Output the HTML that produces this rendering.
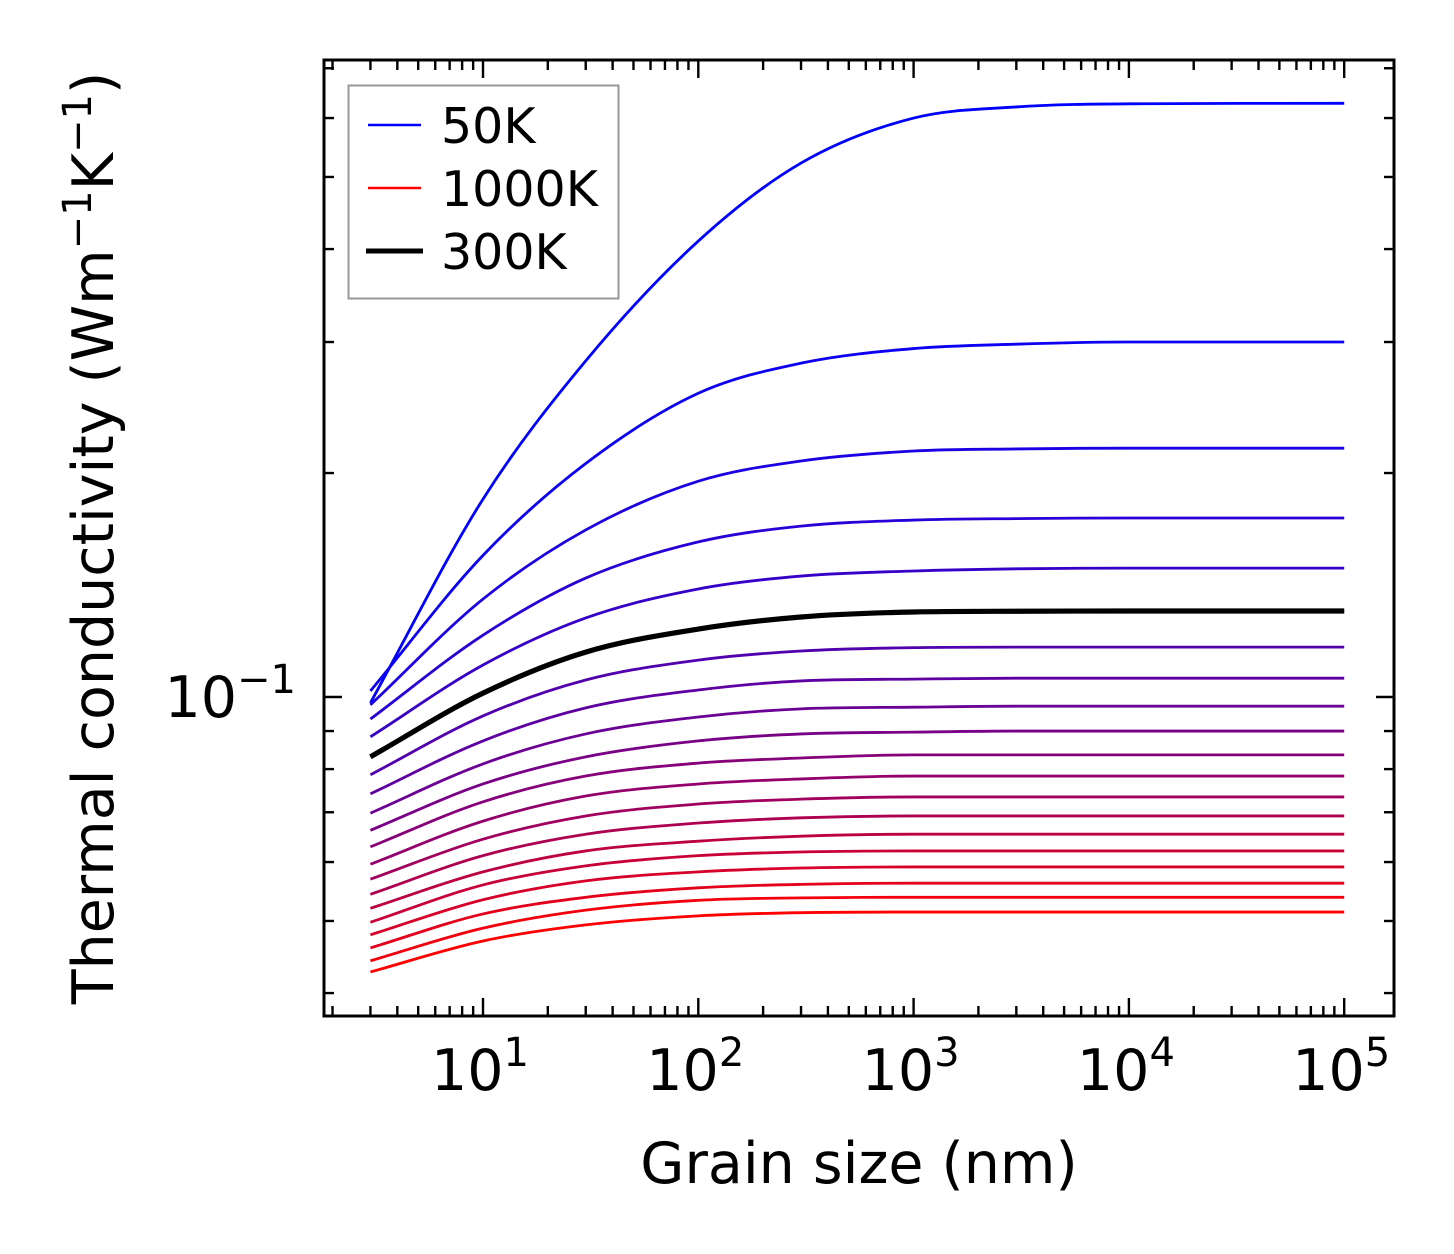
<!DOCTYPE html>
<html><head><meta charset="utf-8"><style>
html,body{margin:0;padding:0;background:#fff;}
svg{display:block;font-family:"DejaVu Sans","Liberation Sans",sans-serif;}
</style></head><body>
<svg id="chart" width="1454" height="1254" viewBox="0 0 1454 1254" xmlns="http://www.w3.org/2000/svg">
<g id="curves"></g>
<g id="axes"></g>
<g id="legend">
  <rect x="348.5" y="85.5" width="270" height="213" fill="#fff" stroke="#999" stroke-width="2"/>
  <line x1="368" y1="125" x2="421" y2="125" stroke="#0000ff" stroke-width="2.6"/>
  <text x="441" y="143" font-size="49">50K</text>
  <line x1="368" y1="188" x2="421" y2="188" stroke="#ff0000" stroke-width="2.6"/>
  <text x="441" y="206" font-size="49">1000K</text>
  <line x1="366" y1="251" x2="423" y2="251" stroke="#000" stroke-width="5"/>
  <text x="441" y="269" font-size="49">300K</text>
</g>
<text x="859" y="1183" font-size="57" text-anchor="middle">Grain size (nm)</text>
<text transform="translate(113,538) rotate(-90)" font-size="57" text-anchor="middle">Thermal conductivity (Wm<tspan font-size="40" dy="-22">−1</tspan><tspan dy="22">K</tspan><tspan font-size="40" dy="-22">−1</tspan><tspan dy="22">)</tspan></text>
</svg>
<script>
// grain sizes (nm) at which values were read
const grainSizes = [3, 10, 30, 100, 300, 1000, 3000, 10000, 100000];
const temperatures = [50,100,150,200,250,300,350,400,450,500,550,600,650,700,750,800,850,900,950,1000];
const k50 = [0.0982,0.1845,0.283,0.410,0.522,0.600,0.621,0.627,0.628];
const k100 = [0.1019,0.155,0.206,0.256,0.281,0.294,0.298,0.300,0.300];
const k150 = [0.0976,0.1354,0.1677,0.195,0.2076,0.2141,0.2155,0.216,0.216];
const k200 = [0.0934,0.1211,0.1445,0.1616,0.1697,0.1729,0.1737,0.174,0.174];
const k250 = [0.0884,0.1104,0.1277,0.1397,0.1454,0.1477,0.1487,0.149,0.149];
const k300 = [0.0831,0.1012,0.1149,0.1234,0.1281,0.1301,0.1304,0.1305,0.1305];
const k350 = [0.0786,0.0943,0.1054,0.1121,0.1153,0.1165,0.1167,0.1167,0.1167];
const k400 = [0.0741,0.0873,0.0967,0.1022,0.1051,0.1057,0.106,0.106,0.106];
const k450 = [0.0698,0.0813,0.0892,0.0940,0.0964,0.0969,0.0972,0.0972,0.0972];
const k500 = [0.0662,0.0764,0.0831,0.0873,0.0892,0.0897,0.090,0.090,0.090];
const k550 = [0.0629,0.0723,0.0783,0.0815,0.0828,0.0836,0.0836,0.0836,0.0836];
const k600 = [0.0596,0.0681,0.0736,0.0764,0.0776,0.0783,0.0783,0.0783,0.0783];
const k650 = [0.0569,0.0644,0.0692,0.0718,0.0729,0.0734,0.0734,0.0734,0.0734];
const k700 = [0.0543,0.0612,0.0654,0.0677,0.0688,0.0692,0.0692,0.0692,0.0692];
const k750 = [0.0520,0.0582,0.0621,0.0640,0.0650,0.0654,0.0654,0.0654,0.0654];
const k800 = [0.0498,0.0559,0.0593,0.0612,0.0619,0.0621,0.0621,0.0621,0.0621];
const k850 = [0.0479,0.0534,0.0566,0.0582,0.0589,0.0591,0.0591,0.0591,0.0591];
const k900 = [0.0460,0.0511,0.0538,0.0554,0.0560,0.0562,0.0562,0.0562,0.0562];
const k950 = [0.0442,0.0489,0.0517,0.0533,0.0537,0.0538,0.0538,0.0538,0.0538];
const k1000 = [0.0427,0.0470,0.0494,0.0508,0.0513,0.0514,0.0514,0.0514,0.0514];
const series = [k50,k100,k150,k200,k250,k300,k350,k400,k450,k500,k550,k600,k650,k700,k750,k800,k850,k900,k950,k1000];
const highlightTemp = 300;
const xTickExps = [1,2,3,4,5];
const yTickLabel = "10";

const NS = "http://www.w3.org/2000/svg";
const L=324, R=1394, T=60, B=1016;
const xDec=215.3, x10=483;
const yDec=744, y01=697;
function xs(v){ return x10 + (Math.log10(v)-1)*xDec; }
function ys(v){ return y01 - (Math.log10(v)+1)*yDec; }
function mk(tag, attrs, parent){
  const e=document.createElementNS(NS,tag);
  for(const k in attrs) e.setAttribute(k, attrs[k]);
  parent.appendChild(e); return e;
}
// monotone cubic interpolation in pixel space
function smoothPath(px, py){
  const n=px.length, d=[], m=new Array(n);
  for(let i=0;i<n-1;i++) d.push((py[i+1]-py[i])/(px[i+1]-px[i]));
  m[0]=d[0]; m[n-1]=d[n-2];
  for(let i=1;i<n-1;i++){ m[i]=(d[i-1]*d[i]<=0)?0:(d[i-1]+d[i])/2; }
  for(let i=0;i<n-1;i++){
    if(d[i]===0){m[i]=0;m[i+1]=0;continue;}
    const a=m[i]/d[i], b=m[i+1]/d[i], s=a*a+b*b;
    if(s>9){const t=3/Math.sqrt(s); m[i]=t*a*d[i]; m[i+1]=t*b*d[i];}
  }
  let p="M"+px[0].toFixed(2)+","+py[0].toFixed(2);
  for(let i=0;i<n-1;i++){
    const h=px[i+1]-px[i];
    p+=" C"+(px[i]+h/3).toFixed(2)+","+(py[i]+m[i]*h/3).toFixed(2)+" "+(px[i+1]-h/3).toFixed(2)+","+(py[i+1]-m[i+1]*h/3).toFixed(2)+" "+px[i+1].toFixed(2)+","+py[i+1].toFixed(2);
  }
  return p;
}
const cg=document.getElementById("curves");
const px=grainSizes.map(xs);
let hiIdx=-1;
series.forEach((s,i)=>{
  const f=i/(series.length-1);
  const col="rgb("+Math.round(255*f)+",0,"+Math.round(255*(1-f))+")";
  const path=mk("path",{d:smoothPath(px,s.map(ys)),fill:"none",stroke:col,"stroke-width":"2.8","stroke-linejoin":"round"},cg);
  
  
  if(temperatures[i]===highlightTemp) hiIdx=i;
});
if(hiIdx>=0){
  const hp=mk("path",{d:smoothPath(px,series[hiIdx].map(ys)),fill:"none",stroke:"#000","stroke-width":"5.2","stroke-linejoin":"round"},cg);
  
  
}
// axes
const ag=document.getElementById("axes");
const frame=mk("rect",{x:L,y:T,width:R-L,height:B-T,fill:"none",stroke:"#000","stroke-width":"3"},ag);


function tick(x1,y1,x2,y2,w){ mk("line",{x1:x1,y1:y1,x2:x2,y2:y2,stroke:"#000","stroke-width":w||"2.4"},ag); }
// x ticks
for(let e=0;e<=5;e++){
  for(let k=1;k<10;k++){
    const v=k*Math.pow(10,e), x=xs(v);
    if(x<L+1||x>R-1) continue;
    const len=(k===1)?18:10;
    tick(x,B,x,B-len); tick(x,T,x,T+len);
  }
}
xTickExps.forEach(e=>{
  const t=mk("text",{x:xs(Math.pow(10,e))-3,y:1090,"font-size":"57","text-anchor":"middle"},ag);
  
  
  t.textContent="10";
  const s=mk("tspan",{"font-size":"40",dy:"-24"},t); s.textContent=String(e);
});
// y ticks
for(let e=-2;e<=0;e++){
  for(let k=1;k<10;k++){
    const v=k*Math.pow(10,e), y=ys(v);
    if(y<T+1||y>B-1) continue;
    const len=(k===1)?18:10;
    tick(L,y,L+len,y); tick(R,y,R-len,y);
  }
}
const yl=mk("text",{x:296,y:ys(0.1)+20,"font-size":"57","text-anchor":"end"},ag);


yl.textContent=yTickLabel;
const ys1=mk("tspan",{"font-size":"40",dy:"-24"},yl); ys1.textContent="−1";
</script>
</body></html>
